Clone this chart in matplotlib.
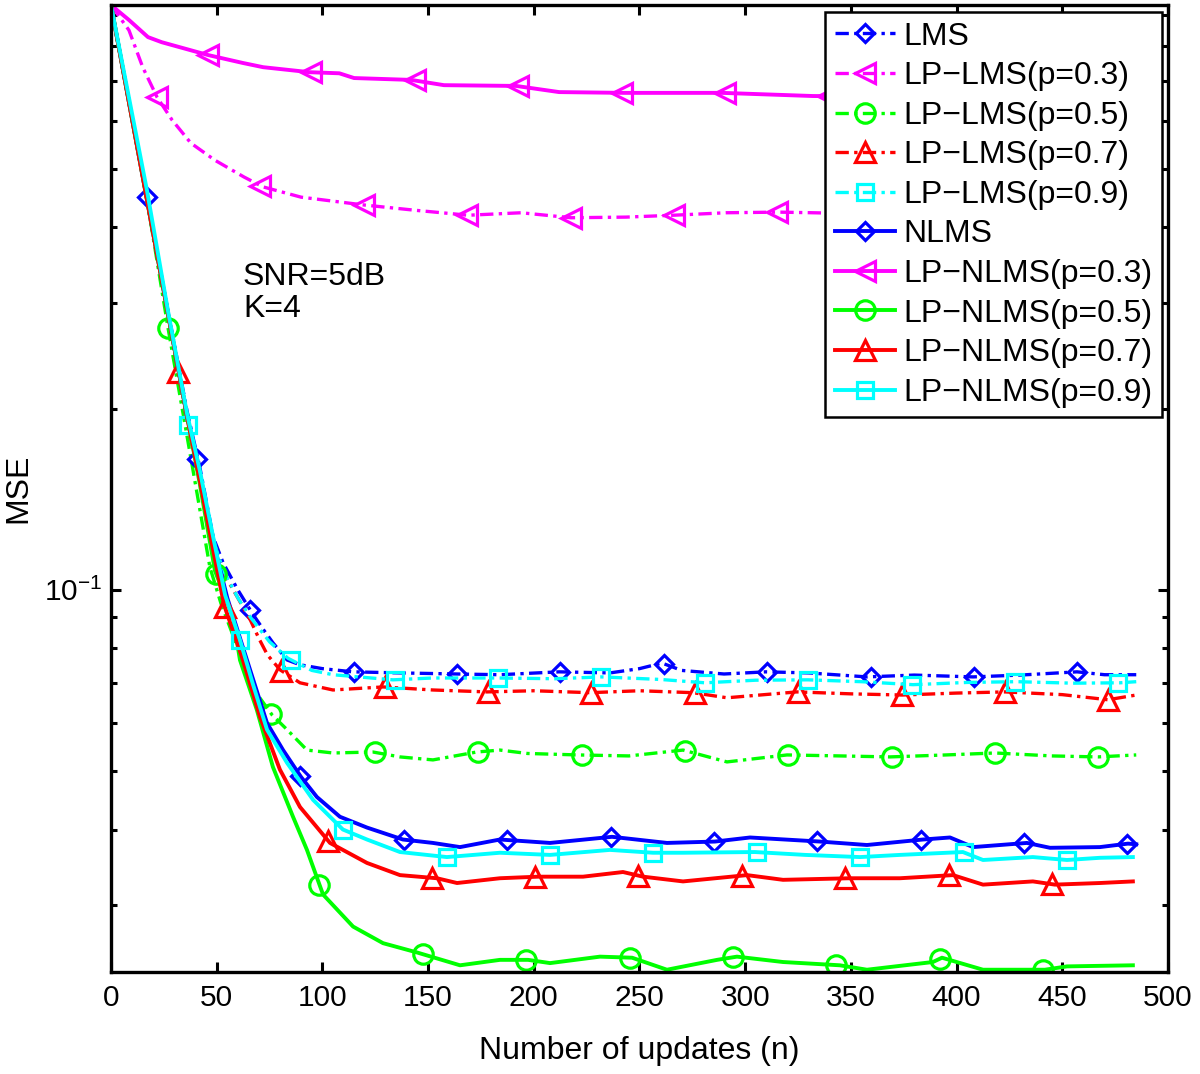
import numpy as np
import matplotlib
matplotlib.use("Agg")
import matplotlib.pyplot as plt
from matplotlib.lines import Line2D
from matplotlib.ticker import NullFormatter, MultipleLocator

plt.rcParams['font.family'] = ['Liberation Sans', 'DejaVu Sans']
plt.rcParams['mathtext.fontset'] = 'custom'
plt.rcParams['mathtext.rm'] = 'Liberation Sans'
plt.rcParams['mathtext.it'] = 'Liberation Sans:italic'
plt.rcParams['mathtext.bf'] = 'Liberation Sans:bold'

# ---- data (x = number of updates, y = MSE) ----
lms_x = [0, 17, 27, 36, 42, 48.3, 53, 60, 66.7, 72, 76.6, 83.3, 89.4, 100, 114.5, 136.7, 163.7,
         184, 212, 236, 250, 260.6, 270, 290, 309.8, 330, 357.6, 380, 407.8, 430, 457, 470, 485]
lms_y = [0.936, 0.449, 0.29, 0.198, 0.160, 0.1225, 0.111, 0.100, 0.0916, 0.0860, 0.0817, 0.0765,
         0.0751, 0.0740, 0.0731, 0.0728, 0.0725, 0.0723, 0.0731, 0.0728, 0.0740, 0.0756, 0.0735,
         0.0725, 0.0731, 0.0728, 0.0717, 0.0722, 0.0717, 0.0722, 0.0731, 0.0723, 0.0723]

lplms3_x = [0, 8.5, 15, 21.8, 28.9, 37.8, 49.2, 62.9, 71.9, 89.9, 119, 144, 169, 194, 217.6,
            243.6, 266, 291, 316, 332, 360, 400, 440, 485]
lplms3_y = [0.936, 0.850, 0.738, 0.658, 0.603, 0.552, 0.517, 0.485, 0.467, 0.449, 0.436, 0.427,
            0.419, 0.423, 0.415, 0.416, 0.419, 0.423, 0.424, 0.423, 0.421, 0.420, 0.419, 0.420]

lplms5_x = [0, 17, 27, 38.8, 46.8, 52, 60, 68, 76.2, 83.3, 92.7, 105, 123.9, 136.7, 152.3, 173,
            184, 197, 221, 245, 270.6, 291.4, 319.8, 345, 368.5, 395, 418.2, 445, 466.9, 485]
lplms5_y = [0.936, 0.445, 0.272, 0.158, 0.109, 0.095, 0.080, 0.068, 0.062, 0.0586, 0.0542,
            0.0536, 0.0538, 0.0528, 0.0522, 0.0538, 0.0542, 0.0535, 0.0532, 0.0530, 0.0542,
            0.0518, 0.0532, 0.0530, 0.0528, 0.0532, 0.0536, 0.0530, 0.0528, 0.0532]

lplms7_x = [0, 17, 27, 31.7, 36, 42, 48, 53, 60, 66, 70, 74, 79.9, 89.4, 105, 128.7, 152.3,
            177.9, 200, 226.6, 250, 275.3, 291.4, 324.5, 350, 374.2, 400, 422.9, 450, 471.6, 485]
lplms7_y = [0.936, 0.445, 0.287, 0.230, 0.190, 0.152, 0.122, 0.107, 0.097, 0.089, 0.083,
            0.078, 0.0737, 0.0701, 0.0682, 0.0690, 0.0682, 0.0677, 0.0680, 0.0675, 0.0680,
            0.0675, 0.0662, 0.0677, 0.0672, 0.0669, 0.0674, 0.0677, 0.0670, 0.0657, 0.0669]

lplms9_x = [0, 17, 27, 36.4, 42, 48, 53, 60, 66, 75, 83.7, 95, 105, 133.4, 152, 183, 210, 232,
            260, 281, 305, 329.7, 355, 379.4, 405, 428.6, 455, 477.3, 485]
lplms9_y = [0.936, 0.445, 0.287, 0.188, 0.155, 0.122, 0.108, 0.097, 0.090, 0.082, 0.0770,
            0.0735, 0.0723, 0.0709, 0.0714, 0.0714, 0.0712, 0.0717, 0.0710, 0.0701, 0.0708,
            0.0709, 0.0704, 0.0696, 0.0702, 0.0704, 0.0700, 0.0701, 0.0704]

nlms_x = [0, 17, 27, 36, 40.7, 45, 50, 55, 64.3, 73.8, 81.4, 89.9, 97.4, 108.3, 121.1, 138.1,
          152.3, 165.1, 184, 207.7, 237, 263, 285.7, 302.3, 335.4, 357.6, 384.1, 396.9, 407.8,
          433.3, 444.2, 467.8, 481.1, 485]
nlms_y = [0.936, 0.445, 0.287, 0.194, 0.165, 0.138, 0.114, 0.097, 0.0765, 0.0601, 0.0542,
          0.0489, 0.0453, 0.0420, 0.0403, 0.0385, 0.0380, 0.0374, 0.0385, 0.0380, 0.0389,
          0.0380, 0.0382, 0.0388, 0.0382, 0.0377, 0.0385, 0.0388, 0.0374, 0.0380, 0.0373,
          0.0374, 0.0379, 0.0378]

lpnlms3_x = [0, 8.5, 17.5, 24, 46, 62.4, 72, 94, 108, 115, 142, 157.5, 191.6, 212, 242.7, 289,
             332, 360, 400, 440, 485]
lpnlms3_y = [0.936, 0.884, 0.828, 0.812, 0.773, 0.750, 0.738, 0.724, 0.721, 0.708, 0.703,
             0.689, 0.687, 0.671, 0.669, 0.669, 0.661, 0.660, 0.657, 0.655, 0.656]

lpnlms5_x = [0, 17, 27, 36, 42, 49.2, 57.7, 61, 69, 76.6, 86.1, 92.7, 100.3, 114.5, 128.7,
             144.7, 165.1, 184, 197.3, 207.7, 231.3, 246.5, 263, 286.7, 296.1, 317.9, 344.8,
             357.6, 388.8, 393.1, 412.5, 441.8, 452.2, 483.4]
lpnlms5_y = [0.936, 0.445, 0.287, 0.194, 0.150, 0.1075, 0.0902, 0.0765, 0.0632, 0.0508,
             0.0420, 0.0370, 0.0312, 0.0276, 0.0259, 0.0250, 0.0238, 0.0243, 0.0243, 0.0240,
             0.0246, 0.0245, 0.0234, 0.0243, 0.0246, 0.0241, 0.0238, 0.0234, 0.0241, 0.0245,
             0.0234, 0.0234, 0.0237, 0.0238]

lpnlms7_x = [0, 17, 27, 36, 42, 48, 53.5, 62.4, 70.5, 79.9, 89.4, 103.6, 121.1, 136.7, 154.2,
             163.7, 184, 202, 223.3, 242.2, 251.7, 270.6, 300.9, 317.9, 349.6, 373.2, 398.3,
             412.5, 436.1, 446.5, 467.8, 483.4]
lpnlms7_y = [0.936, 0.445, 0.287, 0.194, 0.152, 0.118, 0.0944, 0.0765, 0.0615, 0.0503,
             0.0436, 0.0380, 0.0352, 0.0336, 0.0332, 0.0326, 0.0332, 0.0334, 0.0334, 0.0340,
             0.0334, 0.0328, 0.0336, 0.0330, 0.0332, 0.0332, 0.0336, 0.0324, 0.0328, 0.0324,
             0.0326, 0.0328]

lpnlms9_x = [0, 17, 27, 36, 42, 48, 54, 61, 67, 73.8, 83.3, 95.6, 109.7, 121.1, 136.7, 158.9,
             184, 207.7, 236, 256.4, 270.6, 304.6, 328.3, 354.3, 373.2, 403, 412.5, 436.1,
             452.2, 467.8, 483.4]
lpnlms9_y = [0.936, 0.461, 0.290, 0.196, 0.158, 0.124, 0.098, 0.0826, 0.070, 0.0586, 0.0516,
             0.0448, 0.0400, 0.0385, 0.0367, 0.0360, 0.0366, 0.0363, 0.0370, 0.0366, 0.0366,
             0.0367, 0.0363, 0.0360, 0.0363, 0.0367, 0.0356, 0.0360, 0.0356, 0.0359, 0.0360]

labels = ['LMS', 'LP\u2212LMS(p=0.3)', 'LP\u2212LMS(p=0.5)', 'LP\u2212LMS(p=0.7)',
          'LP\u2212LMS(p=0.9)', 'NLMS', 'LP\u2212NLMS(p=0.3)', 'LP\u2212NLMS(p=0.5)',
          'LP\u2212NLMS(p=0.7)', 'LP\u2212NLMS(p=0.9)']
xs = [lms_x, lplms3_x, lplms5_x, lplms7_x, lplms9_x,
      nlms_x, lpnlms3_x, lpnlms5_x, lpnlms7_x, lpnlms9_x]
ys = [lms_y, lplms3_y, lplms5_y, lplms7_y, lplms9_y,
      nlms_y, lpnlms3_y, lpnlms5_y, lpnlms7_y, lpnlms9_y]

# ---- style (MATLAB colour letters b m g r c) ----
colors = [(0, 0, 1), (1, 0, 1), (0, 1, 0), (1, 0, 0), (0, 1, 1)] * 2
markers = ['D', '<', 'o', '^', 's'] * 2
msizes = [9.5, 15, 14, 15, 12] * 2
first_mark = [17, 21.8, 27, 31.7, 36.4, 40.7, 45.9, 49.7, 53.9, 61]
mark_step = 48.9
dashdot = (0, (4, 1.6, 1, 1.6))

fig = plt.figure(figsize=(12, 10.74), dpi=100)
ax = fig.add_axes([0.0925, 0.095, 0.8808, 0.9003])

handles = []
for i in range(10):
    ls = dashdot if i < 5 else '-'
    lw = 2.4 if i < 5 else 2.8
    x = np.asarray(xs[i])
    y = np.asarray(ys[i])
    ax.plot(x, y, color=colors[i], ls=ls, lw=lw)
    mx = np.arange(first_mark[i], x[-1], mark_step)
    my = np.exp(np.interp(mx, x, np.log(y)))
    ax.plot(mx, my, ls='none', marker=markers[i], ms=msizes[i], mew=2.3,
            mfc='none', mec=colors[i])
    handles.append(Line2D([], [], color=colors[i], ls=ls, lw=lw, marker=markers[i],
                          ms=msizes[i], mew=2.3, mfc='none', mec=colors[i]))

ax.set_yscale('log')
ax.set_xlim(0, 500)
ax.set_ylim(0.0232, 0.936)
ax.xaxis.set_major_locator(MultipleLocator(50))
ax.yaxis.set_minor_formatter(NullFormatter())

for s in ax.spines.values():
    s.set_linewidth(2.4)
ax.tick_params(which='both', direction='in', top=True, right=True, width=2.2,
               labelsize=21.5)
ax.tick_params(which='major', length=7.5, pad=9)
ax.tick_params(which='minor', length=4)
ax.tick_params(axis='y', pad=6)

ax.set_xlabel('Number of updates (n)', fontsize=23)
ax.set_ylabel('MSE', fontsize=23)
ax.xaxis.set_label_coords(0.5, -0.066)
ax.yaxis.set_label_coords(-0.073, 0.5)

ax.text(243 / 1200, 1 - 262 / 1074, 'SNR=5dB\nK=4', transform=fig.transFigure,
        fontsize=23, va='top', ha='left', linespacing=1.08)

leg = ax.legend(handles, labels, loc='upper right', bbox_to_anchor=(1162 / 1200, 1 - 12 / 1074),
                bbox_transform=fig.transFigure, borderaxespad=0, fontsize=23,
                handlelength=1.9, handletextpad=0.25, labelspacing=0.3, borderpad=0.3,
                numpoints=1, fancybox=False, framealpha=1, edgecolor='k')
leg.get_frame().set_linewidth(1.8)

fig.savefig('out.png', dpi=100)
